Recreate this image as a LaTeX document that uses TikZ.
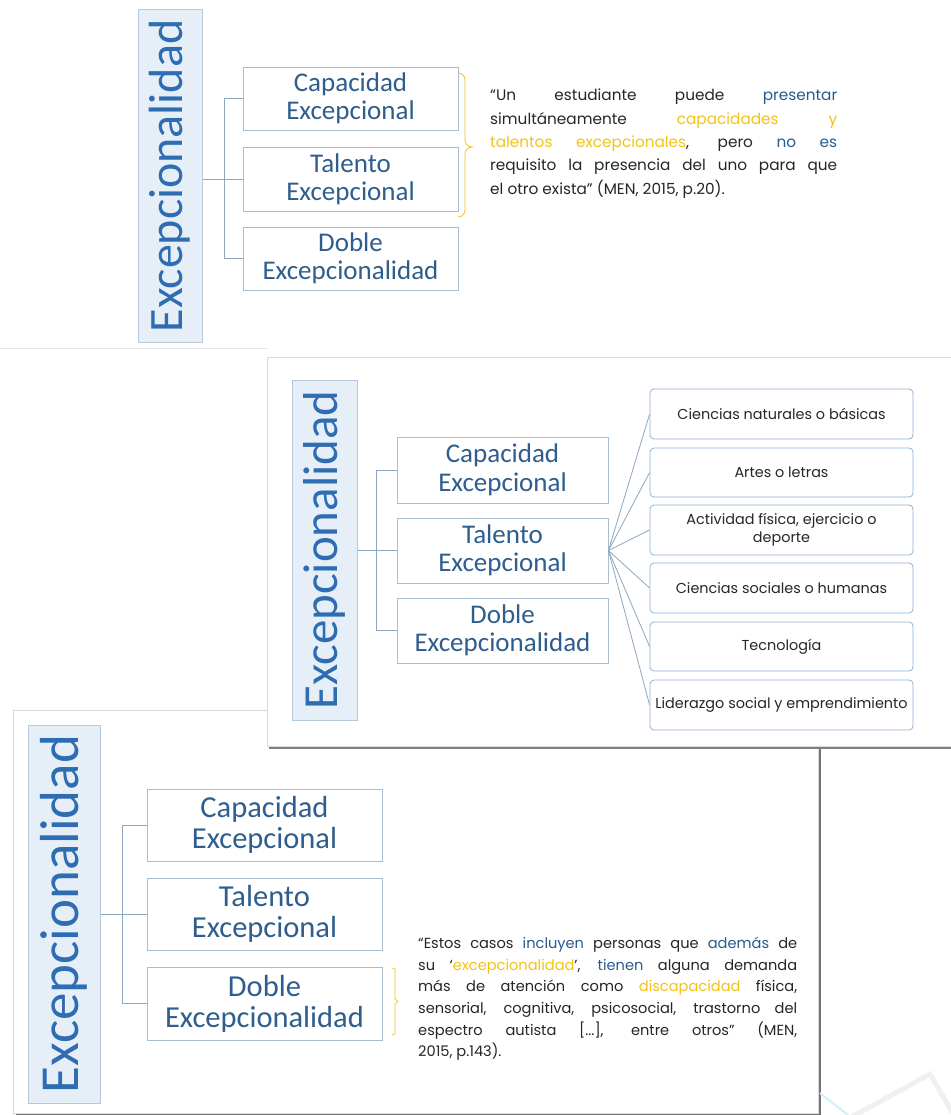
\documentclass[tikz,border=0pt]{standalone}
\usepackage{fontspec}
\setmainfont{Carlito}
\newfontfamily\qf{Poppins}
\definecolor{vtext}{HTML}{2E6DB2}
\definecolor{vbfill}{HTML}{E6EFF8}
\definecolor{vbdraw}{HTML}{B4C7DB}
\definecolor{bxdraw}{HTML}{A9BED3}
\definecolor{bxtext}{HTML}{2F5E8E}
\definecolor{lnclr}{HTML}{8FA6BF}
\definecolor{rbdraw}{HTML}{8EB0D4}
\definecolor{qtext}{HTML}{262626}
\definecolor{qblue}{HTML}{2A5A8C}
\definecolor{qyel}{HTML}{F2C318}
\newcommand{\qb}[1]{\textcolor{qblue}{#1}}
\newcommand{\qy}[1]{\textcolor{qyel}{#1}}
\begin{document}
\begin{tikzpicture}[x=1pt,y=-1pt,
  vbox/.style={draw=vbdraw, fill=vbfill, line width=1pt, inner sep=0pt, text=vtext, rotate=90},
  sbox/.style={draw=bxdraw, line width=0.9pt, fill=white, inner sep=0pt, text=bxtext, align=center},
  rbox/.style={draw=rbdraw, line width=0.8pt, rounded corners=4pt, fill=white, inner sep=0pt,
     minimum width=263, minimum height=49, align=center, text=qtext, font=\qf\fontsize{14.4}{18}\selectfont},
  conn/.style={draw=lnclr, line width=0.8pt},
  quote/.style={inner sep=0pt, align=justify, text=qtext},
  yelline/.style={draw=qyel, line width=0.9pt}
]
\useasboundingbox (0,0) rectangle (950,1115);
\fill[white] (0,0) rectangle (950,1115);

% faint separator under top slide
\draw[black!10, line width=0.8pt] (0,348) -- (267,348);

% ---------------- Panel 1 ----------------
\node[vbox, minimum width=332, minimum height=64, font=\fontsize{48}{48}\selectfont] (vb1) at (170,176) {Excepcionalidad};
\node[sbox, minimum width=215, minimum height=63, font=\fontsize{27}{28}\selectfont] (c1) at (350.5,98.5) {Capacidad\\Excepcional};
\node[sbox, minimum width=215, minimum height=64, font=\fontsize{27}{28}\selectfont] (t1) at (350.5,179) {Talento\\Excepcional};
\node[sbox, minimum width=215, minimum height=63, font=\fontsize{27}{28}\selectfont] (d1) at (350.5,258.5) {Doble\\Excepcionalidad};
\draw[conn] (vb1.south |- t1.west) -- (t1.west);
\draw[conn] (c1.west) -- ++(-18,0) |- (d1.west);
\draw[yelline, line width=0.8pt] (458,73) to[out=0,in=90] (465,80) -- (465,140) to[out=-90,in=180] (472,147)
   to[out=180,in=90] (465,154) -- (465,210) to[out=-90,in=0] (458,217);
\node[quote, text width=347, anchor=north west, font=\qf\fontsize{15.3}{23.3}\selectfont] (q1) at (490,89)
 {“Un estudiante puede \qb{presentar}\linebreak simultáneamente \qy{capacidades y}\linebreak \qy{talentos excepcionales}, pero \qb{no es}\linebreak requisito la presencia del uno para que\linebreak el otro exista” (MEN, 2015, p.20).};

% ---------------- Panel 3 (behind) ----------------
\fill[black!55] (16,713) rectangle (821,1118);
\draw[black!15, fill=white, line width=1pt] (13,710) rectangle (818,1113);
\node[vbox, minimum width=378, minimum height=72, font=\fontsize{55}{55}\selectfont] (vb3) at (64,914) {Excepcionalidad};
\node[sbox, minimum width=235, minimum height=72, font=\fontsize{30.5}{31}\selectfont] (c3) at (264.5,825) {Capacidad\\Excepcional};
\node[sbox, minimum width=235, minimum height=72, font=\fontsize{30.5}{31}\selectfont] (t3) at (264.5,914) {Talento\\Excepcional};
\node[sbox, minimum width=235, minimum height=73, font=\fontsize{30.5}{31}\selectfont] (d3) at (264.5,1003.5) {Doble\\Excepcionalidad};
\draw[conn] (vb3.south |- t3.west) -- (t3.west);
\draw[conn] (c3.west) -- ++(-24,0) |- (d3.west);
\draw[yelline, line width=0.7pt] (392,968) -- (395,969) -- (395,999) -- (398,1001.5) -- (395,1004) -- (395,1034) -- (392,1035);
\node[quote, text width=379, anchor=north west, font=\qf\fontsize{14.6}{21.6}\selectfont] (q3) at (418,937)
 {“Estos casos \qb{incluyen} personas que \qb{además} de\linebreak su ‘\qy{excepcionalidad}’, \qb{tienen} alguna demanda\linebreak más de atención como \qy{discapacidad} física,\linebreak sensorial, cognitiva, psicosocial, trastorno del\linebreak espectro autista [...], entre otros” (MEN,\linebreak 2015, p.143).};

% ---------------- Panel 2 (front) ----------------
\fill[black!50] (269,360) rectangle (960,749);
\draw[black!15, fill=white, line width=1pt] (267,357) rectangle (958,746);
\node[vbox, minimum width=340, minimum height=65, font=\fontsize{49}{49}\selectfont] (vb2) at (324.5,550) {Excepcionalidad};
\node[sbox, minimum width=211, minimum height=66, font=\fontsize{27}{28.5}\selectfont] (c2) at (502.5,470) {Capacidad\\Excepcional};
\node[sbox, minimum width=211, minimum height=65, font=\fontsize{27}{28.5}\selectfont] (t2) at (502.5,550.5) {Talento\\Excepcional};
\node[sbox, minimum width=211, minimum height=65, font=\fontsize{27}{28.5}\selectfont] (d2) at (502.5,630.5) {Doble\\Excepcionalidad};
\draw[conn] (vb2.south |- t2.west) -- (t2.west);
\draw[conn] (c2.west) -- ++(-20,0) |- (d2.west);
\node[rbox, minimum height=50] (r1) at (781.5,414) {Ciencias naturales o básicas};
\node[rbox] (r2) at (781.5,472.5) {Artes o letras};
\node[rbox, minimum height=50] (r3) at (781.5,530) {Actividad física, ejercicio o\\deporte};
\node[rbox, minimum height=50] (r4) at (781.5,588) {Ciencias sociales o humanas};
\node[rbox] (r5) at (781.5,646.5) {Tecnología};
\node[rbox, minimum height=50] (r6) at (781.5,705) {Liderazgo social y emprendimiento};
\foreach \r in {r1,r2,r3,r4,r5,r6}{\draw[conn] (t2.east) -- (\r.west);}

% faint watermark bottom right
\draw[black!6, line width=5pt] (850,1118) -- (930,1074) -- (952,1112);
\draw[cyan!18, line width=2pt] (820,1093) -- (848,1115);
\end{tikzpicture}
\end{document}
